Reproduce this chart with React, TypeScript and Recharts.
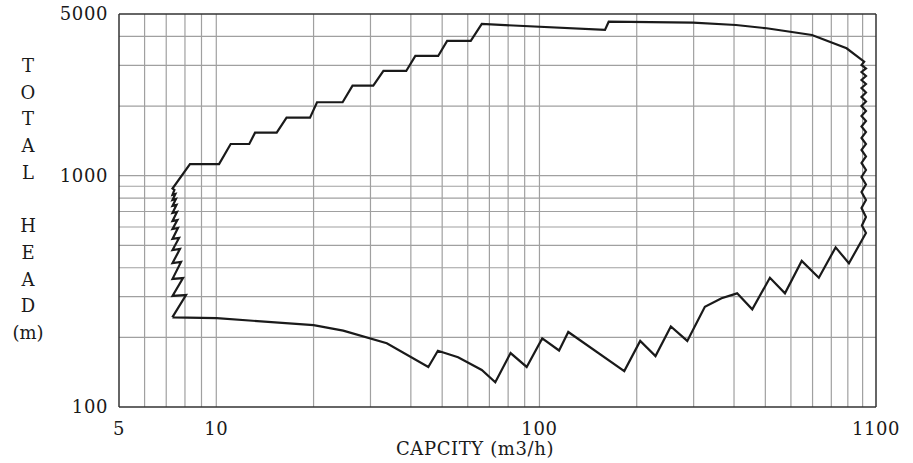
import React from "react";
import { LineChart, Line, XAxis, YAxis, ReferenceLine } from "recharts";

// operating envelope, traced clockwise from the lower left corner
// left edge (minimum flow), bottom to top
const leftQ = [7.31, 8.06, 7.32, 7.89, 7.32, 7.78, 7.32, 7.72, 7.32, 7.67, 7.32, 7.61, 7.32, 7.58, 7.32, 7.56, 7.32, 7.53, 7.32, 7.5, 7.32, 7.47, 7.32, 7.42, 7.32];
const leftH = [244, 305, 302, 361, 358, 424, 419, 482, 477, 538, 533, 594, 588, 643, 637, 697, 690, 747, 740, 793, 785, 833, 826, 868, 880];

// top edge (stepped shut-off heads), left to right
const topQ = [8.29, 10.2, 11.08, 12.65, 13.18, 15.38, 16.5, 19.5, 20.5, 24.6, 26.4, 30.6, 32.9, 38.7, 41.3, 48.6, 51.8, 61.3, 66.3, 159.5, 163.8, 298.5, 405.6, 504.6, 697, 892, 1011];
const topH = [1123, 1123, 1371, 1371, 1534, 1534, 1781, 1781, 2077, 2077, 2450, 2450, 2836, 2836, 3293, 3293, 3823, 3823, 4528, 4265, 4632, 4586, 4482, 4338, 4058, 3554, 3111];

// right edge (maximum flow), top to bottom
const rightQ = [992, 1024, 992, 1024, 992, 1024, 992, 1024, 992, 1024, 992, 1024, 992, 1024, 992, 1024, 992, 1024, 992, 1024, 992, 1024, 992, 1024, 992, 1024, 992, 1024, 995, 1024];
const rightH = [3010, 2907, 2807, 2698, 2593, 2492, 2394, 2289, 2189, 2093, 2001, 1904, 1812, 1724, 1632, 1545, 1456, 1371, 1292, 1211, 1135, 1058, 987, 916, 850, 785, 725, 663, 609, 565];

// bottom edge, right to left, back to the start
const bottomQ = [907, 825, 732, 648, 575, 516.6, 455.5, 409, 366, 325, 286.7, 255, 228.6, 205, 183, 122.8, 115, 102, 91.3, 81.4, 73, 66.3, 56, 48.5, 45.3, 33.7, 24.7, 20, 10.03, 7.31];
const bottomH = [418, 490, 362, 428, 310, 362, 264.5, 310, 295, 271, 193, 223, 166, 193, 143, 211, 175.5, 198, 149, 171, 128, 144.5, 164, 175, 149, 188.6, 214, 226, 242, 244];

const xTicks = [5, 10, 100, 1100];
const yTicks = [100, 1000, 5000];
const xGrid = [6, 7, 8, 9, 10, 20, 30, 40, 50, 60, 70, 80, 90, 100, 200, 300, 400, 500, 600, 700, 800, 900, 1000];
const yGrid = [200, 300, 400, 500, 600, 700, 800, 900, 1000, 2000, 3000, 4000];
const yTitle = ["T", "O", "T", "A", "L", "\u00a0", "H", "E", "A", "D", "(m)"];

const allQ = [...leftQ, ...topQ, ...rightQ, ...bottomQ];
const allH = [...leftH, ...topH, ...rightH, ...bottomH];
const envelope = allQ.map((q, i) => ({ q, h: allH[i] }));

const FONT = "'DejaVu Serif', serif";
const INK = "#1a1a1a";
const GRID = "#a0a0a0";

const XTick = (p: any) => (
  <text x={p.x} y={p.y} dy={12.5} textAnchor="middle" fontFamily={FONT} fontSize={18} letterSpacing={0.6} fill={INK}>
    {p.payload.value}
  </text>
);

const YTick = (p: any) => (
  <text x={p.x} y={p.y} dy={6} textAnchor="end" fontFamily={FONT} fontSize={18} letterSpacing={0.6} fill={INK}>
    {p.payload.value}
  </text>
);

export default function App() {
  return (
    <div style={{ position: "absolute", left: 0, top: 0, width: 913, height: 463, background: "#fff" }}>
      <LineChart
        width={913}
        height={463}
        data={envelope}
        margin={{ top: 14, right: 37, bottom: 0, left: 0 }}
      >
        <XAxis
          dataKey="q"
          type="number"
          scale="log"
          domain={[5, 1100]}
          allowDataOverflow
          ticks={xTicks}
          interval={0}
          height={56}
          tickSize={0}
          tickMargin={15}
          tickLine={false}
          axisLine={{ stroke: "#333", strokeWidth: 1.5 }}
          tick={XTick}
        />
        <YAxis
          dataKey="h"
          type="number"
          scale="log"
          domain={[100, 5000]}
          allowDataOverflow
          ticks={yTicks}
          interval={0}
          width={119}
          tickSize={0}
          tickMargin={11}
          tickLine={false}
          axisLine={{ stroke: "#333", strokeWidth: 1.5 }}
          tick={YTick}
        />
        {xGrid.map((v) => (
          <ReferenceLine key={"x" + v} x={v} stroke={GRID} strokeWidth={1.2} />
        ))}
        {yGrid.map((v) => (
          <ReferenceLine key={"y" + v} y={v} stroke={GRID} strokeWidth={1.2} />
        ))}
        <ReferenceLine y={5000} stroke="#333" strokeWidth={1.5} />
        <ReferenceLine x={1100} stroke="#333" strokeWidth={1.5} />
        <Line
          dataKey="h"
          type="linear"
          stroke={INK}
          strokeWidth={2.2}
          dot={false}
          activeDot={false}
          isAnimationActive={false}
        />
      </LineChart>

      <div
        style={{
          position: "absolute",
          left: 0,
          top: 53,
          width: 56,
          textAlign: "center",
          fontFamily: FONT,
          fontSize: 18,
          lineHeight: "26.7px",
          color: INK,
        }}
      >
        {yTitle.map((c, i) => (
          <div key={i}>{c}</div>
        ))}
      </div>

      <div
        style={{
          position: "absolute",
          left: 325,
          top: 439,
          width: 300,
          textAlign: "center",
          fontFamily: FONT,
          fontSize: 18,
          letterSpacing: 0.6,
          lineHeight: "20px",
          color: INK,
        }}
      >
        CAPCITY (m3/h)
      </div>
    </div>
  );
}
